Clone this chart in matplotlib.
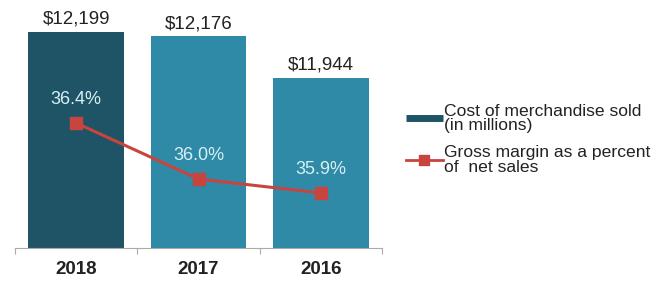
import matplotlib.pyplot as plt
from matplotlib.lines import Line2D

plt.rcParams['font.family'] = ['Liberation Sans', 'DejaVu Sans']

years = ["2018", "2017", "2016"]
cost = [12199, 12176, 11944]
cost_labels = ["$12,199", "$12,176", "$11,944"]
margin = [36.4, 36.0, 35.9]
margin_labels = ["36.4%", "36.0%", "35.9%"]

bar_colors = ["#1e5466", "#2e8aa6", "#2e8aa6"]
line_color = "#c8453f"

fig = plt.figure(figsize=(6.56, 2.81), dpi=100)
ax = fig.add_axes([15/656, 1-248/281, 367/656, 248/281])
x = list(range(len(years)))
ax.bar(x, cost, width=0.78, color=bar_colors, zorder=2)
ax.set_xlim(-0.5, 2.5)
ax.set_ylim(11000, 12377)
for xi, v, lab in zip(x, cost, cost_labels):
    ax.annotate(lab, (xi, v), xytext=(0, 3), textcoords="offset points",
                ha="center", va="bottom", fontsize=13.5, color="#222222")
ax.set_yticks([])
for s in ["top", "right", "left"]:
    ax.spines[s].set_visible(False)
ax.spines["bottom"].set_color("#aaaaaa")
ax.set_xticks([-0.5, 0.5, 1.5, 2.5], minor=False)
ax.set_xticklabels([])
ax.tick_params(axis="x", which="major", length=4, color="#aaaaaa")
ax.set_xticks(x, minor=True)
ax.set_xticklabels(years, minor=True, fontsize=13.5, fontweight="bold", color="#222222")
ax.tick_params(axis="x", which="minor", length=0, pad=9)

ax2 = ax.twinx()
ax2.set_ylim(36.4 - 125/140, 36.4 + 123/140)
ax2.plot(x, margin, color=line_color, lw=2.2, marker="s", ms=8, zorder=3)
for xi, v, lab in zip(x, margin, margin_labels):
    ax2.annotate(lab, (xi, v), xytext=(0, 11), textcoords="offset points",
                 ha="center", va="bottom", fontsize=13, color="#d8f0f4")
ax2.set_yticks([])
for s in ["top", "right", "left", "bottom"]:
    ax2.spines[s].set_visible(False)

handles = [Line2D([0], [0], color="#1e5466", lw=5, solid_capstyle="butt"),
           Line2D([0], [0], color=line_color, lw=2, marker="s", ms=7)]
labels = ["Cost of merchandise sold\n(in millions)",
          "Gross margin as a percent\nof  net sales"]
leg = fig.legend(handles, labels, loc="upper left", bbox_to_anchor=(390/656, 1-88/281),
                 frameon=False, fontsize=12.6, handlelength=2.1, handletextpad=0.1,
                 labelspacing=0.7, labelcolor="#222222")
for t in leg.get_texts():
    t.set_linespacing(0.95)

fig.savefig("out.png", dpi=100)
